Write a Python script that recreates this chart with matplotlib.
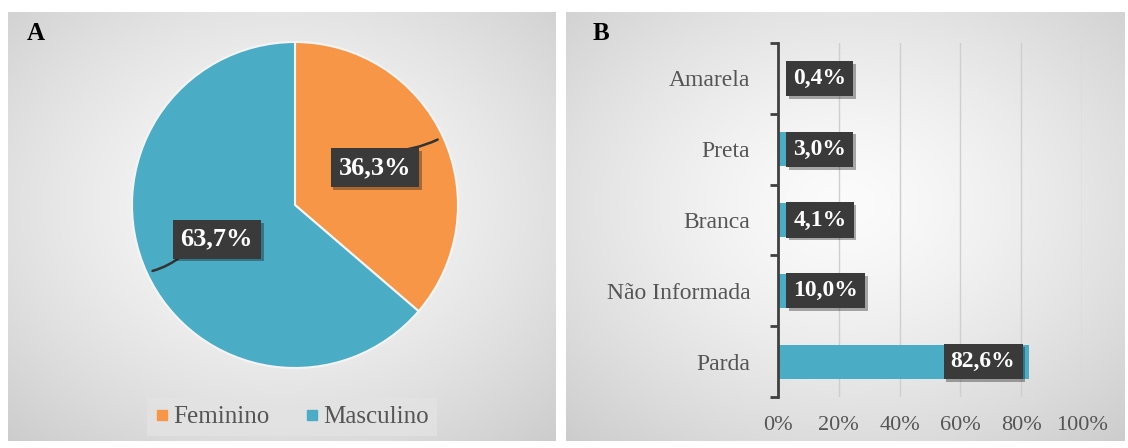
import numpy as np
import matplotlib
matplotlib.use("Agg")
import matplotlib.pyplot as plt
import matplotlib.patheffects as pe
from matplotlib.lines import Line2D

plt.rcParams["font.family"] = ["Liberation Serif", "DejaVu Serif"]

# data
sexo = ["Feminino", "Masculino"]
sexo_pct = [36.3, 63.7]
raca = ["Amarela", "Preta", "Branca", "Não Informada", "Parda"]
raca_pct = [0.4, 3.0, 4.1, 10.0, 82.6]
xticks = [0, 20, 40, 60, 80, 100]

ORANGE = "#F79646"
BLUE = "#4BACC6"
DARK = "#3a3a3a"
GREY_TXT = "#555555"

W, H = 1128, 448
fig = plt.figure(figsize=(W / 100, H / 100), dpi=100)
fig.patch.set_facecolor("white")


def px_axes(x0, y0, x1, y1, **kw):
    # pixel box (top-left origin) -> figure axes
    return fig.add_axes([x0 / W, 1 - y1 / H, (x1 - x0) / W, (y1 - y0) / H], **kw)


def gradient_bg(x0, y0, x1, y1, cx=0.5, cy=0.5):
    ax = px_axes(x0, y0, x1, y1, zorder=0)
    yy, xx = np.mgrid[0:1:200j, 0:1:200j]
    r = np.sqrt(((xx - cx) / 0.75) ** 2 + ((yy - cy) / 0.75) ** 2)
    r = np.clip(r, 0, 1)
    lo, hi = 0.985, 0.80
    g = lo + (hi - lo) * r ** 1.4
    img = np.dstack([g, g, g])
    ax.imshow(img, extent=[0, 1, 0, 1], aspect="auto", origin="upper")
    ax.set_axis_off()
    return ax


gradient_bg(8, 12, 556, 441, cx=0.5, cy=0.45)
gradient_bg(566, 12, 1125, 441, cx=0.5, cy=0.45)

fig.text(27 / W, 1 - 33 / H, "A", fontsize=18, fontweight="bold", va="center", ha="left")
fig.text(593 / W, 1 - 33 / H, "B", fontsize=18, fontweight="bold", va="center", ha="left")

# ---- A: pie
cx, cy, R = 295, 205, 163
axp = px_axes(cx - R, cy - R, cx + R, cy + R, zorder=2)
wedges, _ = axp.pie(sexo_pct, colors=[ORANGE, BLUE], startangle=90, counterclock=False,
                    wedgeprops=dict(edgecolor="#f4f4f4", linewidth=1.5))
axp.set_xlim(-1, 1)
axp.set_ylim(-1, 1)
axp.set_aspect("equal")
axp.set_axis_off()

label_pos = [(0.49, 0.23), (-0.48, -0.21)]
leader_start = [(0.55, 0.33), (-0.68, -0.30)]
for w, v, (lx, ly), (sx, sy) in zip(wedges, sexo_pct, label_pos, leader_start):
    mid = np.deg2rad((w.theta1 + w.theta2) / 2)
    ex, ey = np.cos(mid) * 0.98, np.sin(mid) * 0.98
    axp.annotate("", xy=(ex, ey), xytext=(sx, sy),
                 arrowprops=dict(arrowstyle="-", color="#333333", lw=1.8,
                                 connectionstyle="arc3,rad=0.12" if ex > 0 else "arc3,rad=-0.12"))
    t = axp.text(lx, ly, ("%.1f%%" % v).replace(".", ","), ha="center", va="center",
                 fontsize=19, fontweight="bold", color="white", zorder=5,
                 bbox=dict(boxstyle="square,pad=0.3", facecolor=DARK, edgecolor="none"))
    t.get_bbox_patch().set_path_effects([pe.SimplePatchShadow(offset=(2, -2), alpha=0.35), pe.Normal()])

handles = [Line2D([], [], marker="s", linestyle="none", markersize=7, color=c) for c in (ORANGE, BLUE)]
leg = fig.legend(handles, sexo, loc="center", bbox_to_anchor=(292 / W, 1 - 417 / H), ncol=2,
                 fontsize=18, frameon=True, handlelength=0.6, handletextpad=0.15,
                 columnspacing=1.4, borderpad=0.3, fancybox=False)
leg.get_frame().set_facecolor("#e3e3e3")
leg.get_frame().set_edgecolor("none")
for txt in leg.get_texts():
    txt.set_color(GREY_TXT)

# ---- B: horizontal bars
axb = px_axes(778, 43, 1082, 397, zorder=2)
axb.patch.set_alpha(0)
ypos = np.arange(len(raca))[::-1]
axb.barh(ypos, raca_pct, height=0.48, color=BLUE, zorder=2)
axb.set_xlim(0, 100)
axb.set_ylim(-0.5, len(raca) - 0.5)
axb.set_xticks(xticks)
axb.set_xticklabels(["%d%%" % x for x in xticks])
axb.set_yticks(ypos)
axb.set_yticklabels(raca)
axb.set_yticks(np.arange(-0.5, len(raca), 1.0), minor=True)
axb.tick_params(axis="y", which="major", length=0, pad=20, labelsize=17, labelcolor=GREY_TXT)
axb.tick_params(axis="y", which="minor", length=6, width=2, color="#404040", direction="out")
axb.tick_params(axis="x", length=0, pad=14, labelsize=16, labelcolor=GREY_TXT)
axb.grid(axis="x", color="#cfcfcf", linewidth=1, zorder=0)
axb.set_axisbelow(True)
for s in ("top", "right", "bottom"):
    axb.spines[s].set_visible(False)
axb.spines["left"].set_color("#404040")
axb.spines["left"].set_linewidth(2)
axb.spines["left"].set_zorder(4)

for y, v in zip(ypos, raca_pct):
    lab = ("%.1f%%" % v).replace(".", ",")
    if v > 20:
        x, ha = v - 4.5, "right"
    else:
        x, ha = 5.0, "left"
    t = axb.text(x, y, lab, ha=ha, va="center", fontsize=17, fontweight="bold", color="white", zorder=5,
                 bbox=dict(boxstyle="square,pad=0.3", facecolor=DARK, edgecolor="none"))
    t.get_bbox_patch().set_path_effects([pe.SimplePatchShadow(offset=(2, -2), alpha=0.35), pe.Normal()])

fig.savefig("out.png", dpi=100)
